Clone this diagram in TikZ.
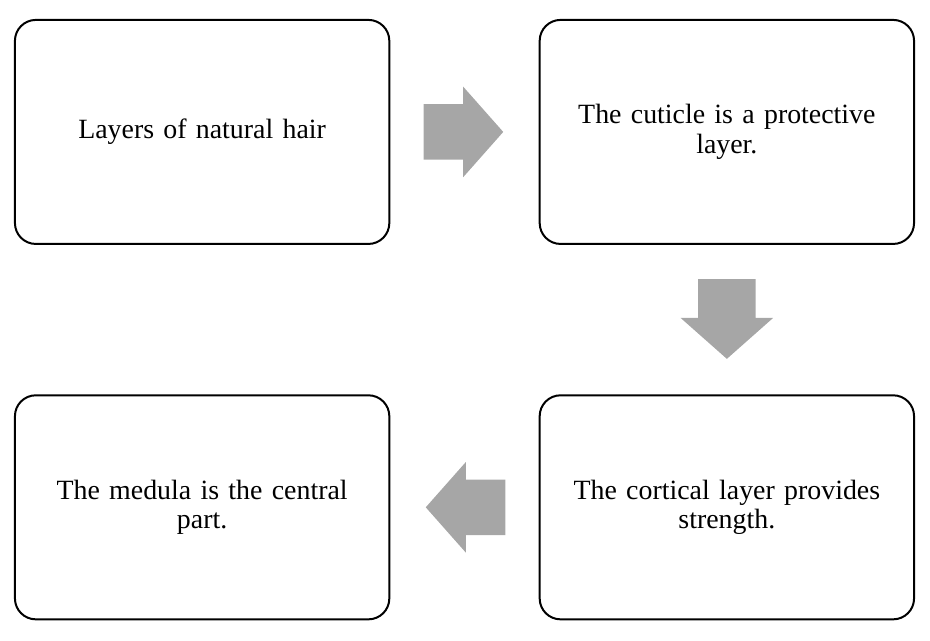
\documentclass[tikz,border=0pt]{standalone}
\usepackage{fontspec}
\setmainfont{Liberation Serif}
\usetikzlibrary{positioning, shapes.arrows, calc}

\begin{document}
\begin{tikzpicture}[
        font=\fontsize{14}{15}\selectfont,
        node distance=74.5pt,
        stage/.style={rectangle, draw=black, line width=1pt, rounded corners=10.5pt, minimum width=188pt, minimum height=112.5pt, text width=175pt, align=center},
        flow/.style={single arrow, fill=black!35, draw=none, minimum height=40pt, minimum width=45pt, single arrow head extend=8.75pt, single arrow tip angle=97, inner xsep=0pt, inner ysep=13.75pt}
    ]

    % Boxes
    \node[stage] (layers) {Layers of natural hair};
    \node[stage, right=of layers] (cuticle) {The cuticle is a protective\\layer.};
    \node[stage, below=75pt of cuticle] (cortical) {The cortical layer provides\\strength.};
    \node[stage, left=of cortical] (medula) {The medula is the central\\part.};

    % Block arrows
    \node[flow, right=16.5pt of layers, anchor=tail] (flowA) {};
    \node[flow, shape border rotate=270, minimum width=46pt, inner xsep=14.25pt, inner ysep=0pt, below=17pt of cuticle, anchor=tail] (flowB) {};
    \node[flow, shape border rotate=180, left=16.5pt of cortical, anchor=tail] (flowC) {};

    % Margins
    \useasboundingbox ($(layers.north west)+(-7pt,9.5pt)$) rectangle ($(cortical.south east)+(7.5pt,-10pt)$);

\end{tikzpicture}
\end{document}
